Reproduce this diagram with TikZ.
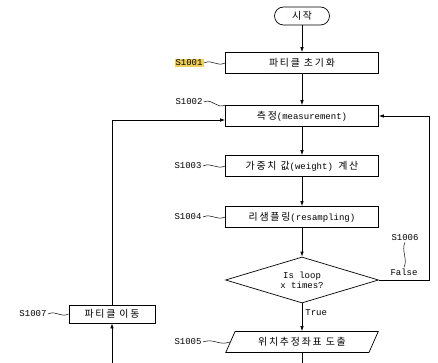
\documentclass[tikz,border=0pt]{standalone}
\usepackage{fontspec}
\setmainfont{Liberation Mono}
\newfontfamily\kr[Scale=1.1, LetterSpace=18]{Noto Sans CJK KR}
\usetikzlibrary{arrows.meta, shapes.geometric}

\begin{document}
\begin{tikzpicture}[x=1pt, y=-1pt, line width=.7pt,
		font=\fontsize{9}{10}\selectfont,
		box/.style={draw, minimum width=153pt, minimum height=21pt, inner sep=0pt},
		stepname/.style={inner sep=1pt},
		arr/.style={-{Latex[length=5pt, width=3.5pt]}},
		wiggle/.style={line width=.5pt}]
	\useasboundingbox (0, 0) rectangle (438, 363);

	\node[draw, rounded corners=9pt, minimum width=55pt, minimum height=18pt] (start) at (302, 16) {\kr 시작};
	\node[box] (init) at (302, 63) {\kr 파티클 초기화};
	\node[box] (meas) at (302, 116) {{\kr 측정}(measurement)};
	\node[box] (weight) at (302, 166) {{\kr 가중치 값}(weight) {\kr 계산}};
	\node[box] (resamp) at (302, 217) {{\kr 리샘플링}(resampling)};
	\node[draw, diamond, aspect=3.3, minimum width=153pt, minimum height=46pt, inner sep=0pt, align=center] (loop) at (302, 280) {Is loop\\x times?};
	\node[draw, trapezium, trapezium left angle=56, trapezium right angle=124, trapezium stretches=true, minimum width=153pt, minimum height=21pt, inner sep=0pt] (pos) at (302, 342) {\kr 위치추정좌표 도출};
	\node[draw, minimum width=86pt, minimum height=18pt, inner sep=0pt] (move) at (112, 314) {\kr 파티클 이동};

	\node[stepname, fill={rgb,255:red,240;green,206;blue,90}] (s1001) at (189, 63) {S1001};
	\node[stepname] (s1002) at (189, 102) {S1002};
	\node[stepname] (s1003) at (188, 166) {S1003};
	\node[stepname] (s1004) at (188, 217) {S1004};
	\node[stepname] (s1005) at (188, 342) {S1005};
	\node[stepname] (s1006) at (405, 238) {S1006};
	\node[stepname] (s1007) at (33, 314) {S1007};
	\node[stepname] (false) at (404, 272) {False};
	\node[stepname, anchor=west] (true) at (304, 313) {True};

	\coordinate (r1) at (429, 280);
	\coordinate (r2) at (429, 116);
	\coordinate (l1) at (112, 120);
	\coordinate (posend) at (302, 363);
	\coordinate (movestart) at (112, 363);

	\draw[arr] (start) -- (init);
	\draw[arr] (init) -- (meas);
	\draw[arr] (meas) -- (weight);
	\draw[arr] (weight) -- (resamp);
	\draw[arr] (resamp) -- (loop);
	\draw[arr] (loop) -- (pos);
	\draw[arr] (loop.east) -- (r1) -- (r2) -- (meas.east);
	\draw (pos) -- (posend);
	\draw[arr] (movestart) -- (move);
	\draw[arr] (move) -- (l1) -- (meas.west |- l1);

	\draw[wiggle] (s1001.east) .. controls +(9, -4) and +(-9, 4) .. (init.west);
	\draw[wiggle] (s1002.east) .. controls +(9, -4) and +(-9, 4) .. (meas.north west);
	\draw[wiggle] (s1003.east) .. controls +(9, -4) and +(-9, 4) .. (weight.west);
	\draw[wiggle] (s1004.east) .. controls +(9, -4) and +(-9, 4) .. (resamp.west);
	\draw[wiggle] (s1005.east) .. controls +(12, -4) and +(-12, 4) .. (pos.west);
	\draw[wiggle] (s1007.east) .. controls +(9, -4) and +(-9, 4) .. (move.west);
	\draw[wiggle] (s1006.south) .. controls +(-4, 8) and +(4, -8) .. (false.north);
\end{tikzpicture}
\end{document}
